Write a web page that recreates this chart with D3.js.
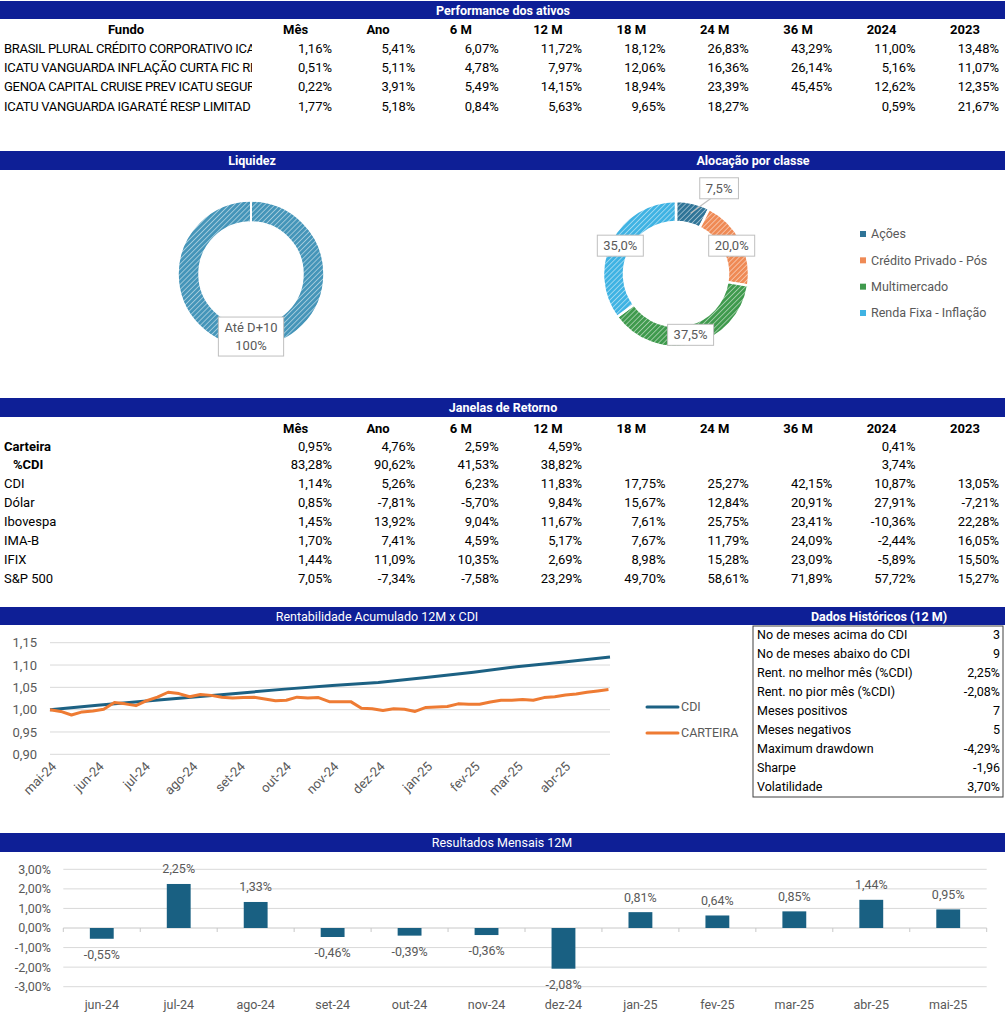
<!DOCTYPE html>
<html>
<head>
<meta charset="utf-8">
<script src="https://cdn.jsdelivr.net/npm/d3@7"></script>
<style>
  body { margin: 0; background: #fff; }
  svg { display: block; font-family: Roboto, "Liberation Sans", sans-serif; }
</style>
</head>
<body>
<script>
// ---- data ----
const periodCols = ["Mês", "Ano", "6 M", "12 M", "18 M", "24 M", "36 M", "2024", "2023"];

const funds = [
  "BRASIL PLURAL CRÉDITO CORPORATIVO ICATU PREV",
  "ICATU VANGUARDA INFLAÇÃO CURTA FIC RF",
  "GENOA CAPITAL CRUISE PREV ICATU SEGURIDADE",
  "ICATU VANGUARDA IGARATÉ RESP LIMITADA"
];
const fundReturns = [
  [1.16, 5.41, 6.07, 11.72, 18.12, 26.83, 43.29, 11.00, 13.48],
  [0.51, 5.11, 4.78, 7.97, 12.06, 16.36, 26.14, 5.16, 11.07],
  [0.22, 3.91, 5.49, 14.15, 18.94, 23.39, 45.45, 12.62, 12.35],
  [1.77, 5.18, 0.84, 5.63, 9.65, 18.27, null, 0.59, 21.67]
];

const liquidezLabels = ["Até D+10"];
const liquidezValues = [100];

const classes = ["Ações", "Crédito Privado - Pós", "Multimercado", "Renda Fixa - Inflação"];
const classValues = [7.5, 20.0, 37.5, 35.0];
const classColors = ["#2f7497", "#ef8a55", "#3f9a4d", "#3fb3e3"];

const windowRows = ["Carteira", "%CDI", "CDI", "Dólar", "Ibovespa", "IMA-B", "IFIX", "S&P 500"];
const windowReturns = [
  [0.95, 4.76, 2.59, 4.59, null, null, null, 0.41, null],
  [83.28, 90.62, 41.53, 38.82, null, null, null, 3.74, null],
  [1.14, 5.26, 6.23, 11.83, 17.75, 25.27, 42.15, 10.87, 13.05],
  [0.85, -7.81, -5.70, 9.84, 15.67, 12.84, 20.91, 27.91, -7.21],
  [1.45, 13.92, 9.04, 11.67, 7.61, 25.75, 23.41, -10.36, 22.28],
  [1.70, 7.41, 4.59, 5.17, 7.67, 11.79, 24.09, -2.44, 16.05],
  [1.44, 11.09, 10.35, 2.69, 8.98, 15.28, 23.09, -5.89, 15.50],
  [7.05, -7.34, -7.58, 23.29, 49.70, 58.61, 71.89, 57.72, 15.27]
];

// cumulative index, CDI read monthly, CARTEIRA read weekly from 2024-05-01
const cdiDates = ["2024-05-01", "2024-06-01", "2024-07-01", "2024-08-01", "2024-09-01", "2024-10-01",
  "2024-11-01", "2024-12-01", "2025-01-01", "2025-02-01", "2025-03-01", "2025-04-01", "2025-05-01"];
const cdiValues = [1.000, 1.010, 1.019, 1.028, 1.037, 1.046, 1.054, 1.061, 1.072, 1.084, 1.096, 1.107, 1.118];
const carteiraWeekly = [
  1.000, 0.996, 0.988, 0.995, 0.997, 1.001, 1.016, 1.013, 1.009, 1.020,
  1.028, 1.039, 1.036, 1.029, 1.034, 1.032, 1.028, 1.026, 1.027, 1.028,
  1.024, 1.020, 1.021, 1.028, 1.026, 1.027, 1.018, 1.018, 1.018, 1.003,
  1.002, 0.998, 1.002, 1.001, 0.996, 1.005, 1.006, 1.007, 1.013, 1.012,
  1.012, 1.017, 1.021, 1.021, 1.023, 1.021, 1.027, 1.029, 1.033, 1.035,
  1.039, 1.042, 1.045
];
const lineTicks = [0.90, 0.95, 1.00, 1.05, 1.10, 1.15];

const histLabels = ["No de meses acima do CDI", "No de meses abaixo do CDI", "Rent. no melhor mês (%CDI)",
  "Rent. no pior mês (%CDI)", "Meses positivos", "Meses negativos", "Maximum drawdown", "Sharpe", "Volatilidade"];
const histValues = ["3", "9", "2,25%", "-2,08%", "7", "5", "-4,29%", "-1,96", "3,70%"];

const months = ["jun-24", "jul-24", "ago-24", "set-24", "out-24", "nov-24", "dez-24", "jan-25", "fev-25", "mar-25", "abr-25", "mai-25"];
const monthly = [-0.55, 2.25, 1.33, -0.46, -0.39, -0.36, -2.08, 0.81, 0.64, 0.85, 1.44, 0.95];
const barTicks = [-3, -2, -1, 0, 1, 2, 3];

// ---- setup ----
const W = 1005, H = 1024;
const navy = "#0e1f96";
const grey = "#595959";
const pct = v => v == null ? "" : v.toFixed(2).replace(".", ",") + "%";

const svg = d3.select("body").append("svg").attr("width", W).attr("height", H);
const defs = svg.append("defs");

function banner(y0, y1, titles) {
  svg.append("rect").attr("x", 0).attr("y", y0).attr("width", W).attr("height", y1 - y0).attr("fill", navy);
  titles.forEach(t => {
    svg.append("text").attr("x", t.cx).attr("y", (y0 + y1) / 2).attr("dy", ".36em")
      .attr("text-anchor", "middle").attr("fill", "#fff").attr("font-size", 12.5)
      .attr("font-weight", t.bold ? 700 : 400).text(t.text);
  });
}

function hatch(id, color) {
  const p = defs.append("pattern").attr("id", id).attr("width", 3.6).attr("height", 3.6)
    .attr("patternUnits", "userSpaceOnUse").attr("patternTransform", "rotate(45)");
  p.append("rect").attr("width", 3.6).attr("height", 3.6).attr("fill", color);
  p.append("line").attr("x1", 0).attr("y1", 0).attr("x2", 0).attr("y2", 3.6)
    .attr("stroke", "#fff").attr("stroke-width", 1.4).attr("stroke-opacity", 0.65);
}

// column scale shared by both tables (right edge of values)
const colX = d3.scaleLinear().domain([0, periodCols.length - 1]).range([332, 999]);

function headerRow(y) {
  svg.append("g").selectAll("text").data(periodCols).join("text")
    .attr("x", (d, i) => colX(i) - 49).attr("y", y).attr("dy", ".35em")
    .attr("font-size", 13).attr("font-weight", 700).text(d => d);
}

// ---- Performance dos ativos ----
banner(1, 19, [{ text: "Performance dos ativos", cx: 503, bold: true }]);
headerRow(29);
svg.append("text").attr("x", 126).attr("y", 29).attr("dy", ".35em").attr("text-anchor", "middle")
  .attr("font-size", 13).attr("font-weight", 700).text("Fundo");

const perfY = d3.scaleLinear().domain([0, funds.length - 1]).range([48, 106]);
defs.append("clipPath").attr("id", "nameClip").append("rect").attr("x", 0).attr("y", 30).attr("width", 252).attr("height", 90);
svg.append("g").attr("clip-path", "url(#nameClip)").selectAll("text").data(funds).join("text")
  .attr("x", 4).attr("y", (d, i) => perfY(i)).attr("dy", ".35em").attr("font-size", 13)
  .attr("letter-spacing", "-0.3px").text(d => d)
  .each(function (d) {
    // the cell cuts the name: keep only what fits (last glyph partly clipped)
    let s = d;
    while (s.length > 1 && this.getComputedTextLength() > 254) {
      s = s.slice(0, -1);
      this.textContent = s;
    }
  });
fundReturns.forEach((row, r) => {
  svg.append("g").selectAll("text").data(row).join("text")
    .attr("x", (d, i) => colX(i)).attr("y", perfY(r)).attr("dy", ".35em")
    .attr("text-anchor", "end").attr("font-size", 13).text(d => pct(d));
});

// ---- Liquidez / Alocação ----
banner(151, 170, [{ text: "Liquidez", cx: 252, bold: true }, { text: "Alocação por classe", cx: 753, bold: true }]);

const rOut = 73, rIn = 52;
const arc = d3.arc().innerRadius(rIn).outerRadius(rOut);
const pie = d3.pie().sort(null).value(d => d);

function labelBox(g, x, y, lines) {
  const lg = g.append("g").attr("transform", `translate(${x},${y})`);
  const t = lg.append("text").attr("text-anchor", "middle").attr("fill", grey).attr("font-size", 13);
  lines.forEach((l, i) => t.append("tspan").attr("x", 0).attr("y", (i - (lines.length - 1) / 2) * 18).attr("dy", ".35em").text(l));
  const bb = t.node().getBBox();
  lg.insert("rect", "text").attr("x", bb.x - 6).attr("y", bb.y - 3).attr("width", bb.width + 12)
    .attr("height", bb.height + 6).attr("fill", "#fff").attr("stroke", "#bfbfbf");
}

hatch("hLiq", "#4595b9");
const gLiq = svg.append("g").attr("transform", "translate(251,274)");
gLiq.selectAll("path").data(pie(liquidezValues)).join("path")
  .attr("d", arc).attr("fill", "url(#hLiq)").attr("stroke", "#fff").attr("stroke-width", 1.5);
gLiq.append("line").attr("x1", 0).attr("y1", -rIn).attr("x2", 0).attr("y2", -rOut - 1).attr("stroke", "#fff").attr("stroke-width", 2);
const liqMid = d3.arc().innerRadius((rIn + rOut) / 2).outerRadius((rIn + rOut) / 2).startAngle(Math.PI).endAngle(Math.PI);
{
  const c = liqMid.centroid();
  labelBox(gLiq, c[0], c[1], [liquidezLabels[0], "100%"]);
}

classColors.forEach((c, i) => hatch("hCls" + i, c));
const gAl = svg.append("g").attr("transform", "translate(676,274)");
const slices = pie(classValues);
gAl.selectAll("path").data(slices).join("path")
  .attr("d", arc).attr("fill", (d, i) => `url(#hCls${i})`).attr("stroke", "#fff").attr("stroke-width", 2.5);
const farArc = d3.arc().innerRadius(96).outerRadius(96);
slices.forEach((s, i) => {
  const text = s.value.toFixed(1).replace(".", ",") + "%";
  if (s.value < 10) {
    const shifted = { startAngle: s.startAngle + 0.23, endAngle: s.endAngle + 0.23 };
    const p = farArc.centroid(shifted);
    const c = arc.centroid(s);
    gAl.append("line").attr("x1", c[0]).attr("y1", c[1]).attr("x2", p[0] - 8).attr("y2", p[1] + 10)
      .attr("stroke", "#bfbfbf").attr("stroke-width", 1.2);
    labelBox(gAl, p[0], p[1], [text]);
  } else {
    const c = arc.centroid(s);
    labelBox(gAl, c[0], c[1], [text]);
  }
});
const legY = d3.scaleLinear().domain([0, classes.length - 1]).range([234, 313]);
const gLeg = svg.append("g");
gLeg.selectAll("rect").data(classes).join("rect")
  .attr("x", 860).attr("y", (d, i) => legY(i) - 3).attr("width", 6).attr("height", 6).attr("fill", (d, i) => classColors[i]);
gLeg.selectAll("text").data(classes).join("text")
  .attr("x", 871).attr("y", (d, i) => legY(i)).attr("dy", ".35em").attr("fill", grey).attr("font-size", 12.5).text(d => d);

// ---- Janelas de Retorno ----
banner(398, 417, [{ text: "Janelas de Retorno", cx: 503, bold: true }]);
headerRow(428);
const winY = d3.scaleLinear().domain([0, windowRows.length - 1]).range([446, 578.5]);
svg.append("g").selectAll("text").data(windowRows).join("text")
  .attr("x", (d, i) => i === 1 ? 13 : 4).attr("y", (d, i) => winY(i)).attr("dy", ".35em")
  .attr("font-size", 13).attr("font-weight", (d, i) => i < 2 ? 700 : 400).text(d => d);
windowReturns.forEach((row, r) => {
  svg.append("g").selectAll("text").data(row).join("text")
    .attr("x", (d, i) => colX(i)).attr("y", winY(r)).attr("dy", ".35em")
    .attr("text-anchor", "end").attr("font-size", 13).text(d => pct(d));
});

// ---- Rentabilidade acumulada ----
banner(607, 625, [{ text: "Rentabilidade Acumulado 12M x CDI", cx: 377, bold: false },
                  { text: "Dados Históricos (12 M)", cx: 879, bold: true }]);

const t0 = new Date(2024, 4, 1), t1 = new Date(2025, 4, 1);
const lx = d3.scaleTime().domain([t0, t1]).range([50, 610]);
const ly = d3.scaleLinear().domain([0.90, 1.15]).range([754.3, 642.7]);
const gL = svg.append("g");
gL.selectAll("line.grid").data(lineTicks).join("line").attr("class", "grid")
  .attr("x1", 50).attr("x2", 610).attr("y1", d => ly(d)).attr("y2", d => ly(d))
  .attr("stroke", "#d9d9d9").attr("stroke-width", 1);
gL.selectAll("text.yl").data(lineTicks).join("text").attr("class", "yl")
  .attr("x", 37).attr("y", d => ly(d)).attr("dy", ".35em").attr("text-anchor", "end")
  .attr("fill", grey).attr("font-size", 13).text(d => d.toFixed(2).replace(".", ","));
const mesPt = ["jan", "fev", "mar", "abr", "mai", "jun", "jul", "ago", "set", "out", "nov", "dez"];
gL.selectAll("text.xl").data(d3.timeMonth.range(t0, t1)).join("text").attr("class", "xl")
  .attr("transform", d => `translate(${lx(d) + 4},${764}) rotate(-45)`)
  .attr("text-anchor", "end").attr("dy", ".35em").attr("fill", grey).attr("font-size", 13)
  .text(d => mesPt[d.getMonth()] + "-" + String(d.getFullYear()).slice(2));

const cdiSeries = cdiDates.map((d, i) => ({ date: new Date(d + "T00:00:00"), v: cdiValues[i] }));
const cartSeries = carteiraWeekly.map((v, i) => ({ date: d3.timeDay.offset(t0, 7 * i), v }));
const line = d3.line().x(d => lx(d.date)).y(d => ly(d.v));
gL.append("path").datum(cdiSeries).attr("d", line).attr("fill", "none").attr("stroke", "#1c6183").attr("stroke-width", 3);
gL.append("path").datum(cartSeries).attr("d", line).attr("fill", "none").attr("stroke", "#ee7b33").attr("stroke-width", 3)
  .attr("stroke-linejoin", "round");

const lineLeg = [{ name: "CDI", color: "#1c6183", y: 707 }, { name: "CARTEIRA", color: "#ee7b33", y: 733 }];
lineLeg.forEach(l => {
  gL.append("line").attr("x1", 647).attr("x2", 678).attr("y1", l.y).attr("y2", l.y).attr("stroke", l.color)
    .attr("stroke-width", 3).attr("stroke-linecap", "round");
  gL.append("text").attr("x", 681).attr("y", l.y).attr("dy", ".35em").attr("fill", grey).attr("font-size", 12.5).text(l.name);
});

// ---- Dados Históricos ----
const histY = d3.scaleLinear().domain([0, histLabels.length - 1]).range([635, 787]);
svg.append("rect").attr("x", 753).attr("y", 626).attr("width", 250).attr("height", 171)
  .attr("fill", "none").attr("stroke", "#404040").attr("stroke-width", 1);
svg.append("g").selectAll("text").data(histLabels).join("text")
  .attr("x", 757).attr("y", (d, i) => histY(i)).attr("dy", ".35em").attr("font-size", 12.5).text(d => d);
svg.append("g").selectAll("text").data(histValues).join("text")
  .attr("x", 1000).attr("y", (d, i) => histY(i)).attr("dy", ".35em").attr("text-anchor", "end").attr("font-size", 12.5).text(d => d);

// ---- Resultados Mensais ----
banner(833, 852, [{ text: "Resultados Mensais 12M", cx: 502, bold: false }]);
const bx = d3.scaleBand().domain(months).range([63.3, 986.7]).paddingInner(0.69).paddingOuter(0.345);
const by = d3.scaleLinear().domain([-3, 3]).range([986.7, 869.3]);
const gB = svg.append("g");
gB.selectAll("line.grid").data(barTicks).join("line").attr("class", "grid")
  .attr("x1", 63.3).attr("x2", 986.7).attr("y1", d => by(d)).attr("y2", d => by(d))
  .attr("stroke", d => d === 0 ? "#c8c8c8" : "#d9d9d9").attr("stroke-width", 1);
const step = bx.step();
gB.selectAll("line.tick").data(d3.range(months.length + 1)).join("line").attr("class", "tick")
  .attr("x1", i => 63.3 + i * step).attr("x2", i => 63.3 + i * step)
  .attr("y1", by(0)).attr("y2", by(0) + 4).attr("stroke", "#c8c8c8");
gB.selectAll("text.yl").data(barTicks).join("text").attr("class", "yl")
  .attr("x", 51).attr("y", d => by(d)).attr("dy", ".35em").attr("text-anchor", "end")
  .attr("fill", grey).attr("font-size", 12.5).text(d => d.toFixed(2).replace(".", ",") + "%");
gB.selectAll("rect").data(monthly).join("rect")
  .attr("x", (d, i) => bx(months[i])).attr("width", bx.bandwidth())
  .attr("y", d => by(Math.max(0, d))).attr("height", d => Math.abs(by(d) - by(0)))
  .attr("fill", "#196082");
gB.selectAll("text.vl").data(monthly).join("text").attr("class", "vl")
  .attr("x", (d, i) => bx(months[i]) + bx.bandwidth() / 2)
  .attr("y", d => d >= 0 ? by(d) - 15 : by(d) + 16).attr("dy", ".35em")
  .attr("text-anchor", "middle").attr("fill", grey).attr("font-size", 12.5).text(d => pct(d));
gB.selectAll("text.xl").data(months).join("text").attr("class", "xl")
  .attr("x", d => bx(d) + bx.bandwidth() / 2).attr("y", 1005).attr("dy", ".35em")
  .attr("text-anchor", "middle").attr("fill", grey).attr("font-size", 12.5).text(d => d);
</script>
</body>
</html>
